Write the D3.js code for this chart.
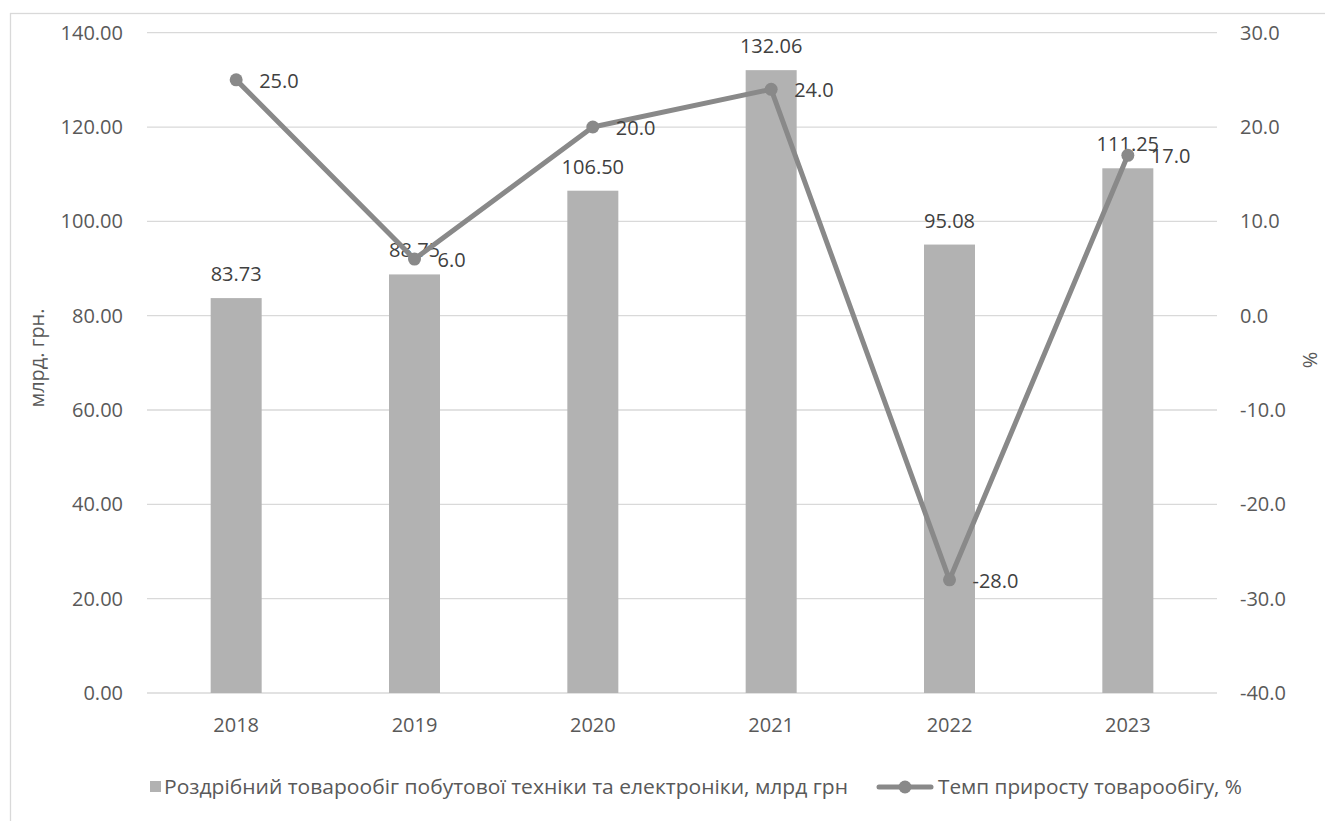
<!doctype html>
<html lang="uk">
<head>
  <meta charset="utf-8">
  <title>Роздрібний товарообіг</title>
  <style>
    body { margin: 0; background: #fff; }
    svg { font-family: "Open Sans", "Noto Sans", sans-serif; }
    .grid line { stroke: #d9d9d9; stroke-width: 1.3; }
    .tick-lbl { fill: #595959; font-size: 20px; }
    .data-lbl { fill: #404040; font-size: 20px; }
  </style>
</head>
<body>
  <div id="chart"></div>
  <script src="https://d3js.org/d3.v7.min.js"></script>
  <script>
// chart data
const years = ['2018', '2019', '2020', '2021', '2022', '2023'];
const turnover = [83.73, 88.75, 106.50, 132.06, 95.08, 111.25];   // млрд грн
const growth = [25.0, 6.0, 20.0, 24.0, -28.0, 17.0];               // %
const leftTicks = [0, 20, 40, 60, 80, 100, 120, 140];
const rightTicks = [-40, -30, -20, -10, 0, 10, 20, 30];
const barName = 'Роздрібний товарообіг побутової техніки та електроніки, млрд грн';
const lineName = 'Темп приросту товарообігу, %';

const W = 1325, H = 821;
const plot = { left: 147, right: 1217, top: 32.7, bottom: 693 };

// Excel shows a plain hyphen for negatives
const f1 = v => d3.format('.1f')(v).replace('\u2212', '-');
const f2 = v => d3.format('.2f')(v).replace('\u2212', '-');

const svg = d3.select('#chart').append('svg')
  .attr('width', W)
  .attr('height', H);

// outer chart border (runs off the right/bottom edge like the original)
svg.append('rect')
  .attr('x', 10.5).attr('y', 13.5)
  .attr('width', W).attr('height', H)
  .attr('fill', 'none')
  .attr('stroke', '#d9d9d9')
  .attr('stroke-width', 1.3);

const x = d3.scaleBand().domain(years).range([plot.left, plot.right]);
const yL = d3.scaleLinear().domain([0, 140]).range([plot.bottom, plot.top]);
const yR = d3.scaleLinear().domain([-40, 30]).range([plot.bottom, plot.top]);
const cx = d => x(d) + x.bandwidth() / 2;

// gridlines
svg.append('g').attr('class', 'grid')
  .selectAll('line')
  .data(leftTicks)
  .join('line')
  .attr('x1', plot.left).attr('x2', plot.right)
  .attr('y1', d => yL(d)).attr('y2', d => yL(d));

// left axis labels
svg.append('g')
  .selectAll('text')
  .data(leftTicks)
  .join('text')
  .attr('class', 'tick-lbl')
  .attr('x', 123)
  .attr('y', d => yL(d))
  .attr('dy', '0.35em')
  .attr('text-anchor', 'end')
  .text(f2);

// right axis labels
svg.append('g')
  .selectAll('text')
  .data(rightTicks)
  .join('text')
  .attr('class', 'tick-lbl')
  .attr('x', 1240)
  .attr('y', d => yR(d))
  .attr('dy', '0.35em')
  .attr('text-anchor', 'start')
  .text(f1);

// x labels
svg.append('g')
  .selectAll('text')
  .data(years)
  .join('text')
  .attr('class', 'tick-lbl')
  .attr('x', cx)
  .attr('y', 725)
  .attr('dy', '0.35em')
  .attr('text-anchor', 'middle')
  .text(d => d);

// axis titles
svg.append('text')
  .attr('class', 'tick-lbl')
  .attr('transform', 'translate(37,358) rotate(-90)')
  .attr('dy', '0.35em')
  .attr('text-anchor', 'middle')
  .text('млрд. грн.');

svg.append('text')
  .attr('class', 'tick-lbl')
  .attr('transform', 'translate(1310,360) rotate(90)')
  .attr('dy', '0.35em')
  .attr('text-anchor', 'middle')
  .text('%');

// bars
const barW = 51;
svg.append('g')
  .selectAll('rect')
  .data(years)
  .join('rect')
  .attr('x', d => cx(d) - barW / 2)
  .attr('y', (d, i) => yL(turnover[i]))
  .attr('width', barW)
  .attr('height', (d, i) => yL(0) - yL(turnover[i]))
  .attr('fill', '#b2b2b2');

// bar labels
svg.append('g')
  .selectAll('text')
  .data(years)
  .join('text')
  .attr('class', 'data-lbl')
  .attr('x', cx)
  .attr('y', (d, i) => yL(turnover[i]) - 24)
  .attr('dy', '0.35em')
  .attr('text-anchor', 'middle')
  .text((d, i) => f2(turnover[i]));

// growth line
const line = d3.line()
  .x((d, i) => cx(years[i]))
  .y(d => yR(d));

svg.append('path')
  .datum(growth)
  .attr('d', line)
  .attr('fill', 'none')
  .attr('stroke', '#898989')
  .attr('stroke-width', 5)
  .attr('stroke-linejoin', 'round');

svg.append('g')
  .selectAll('circle')
  .data(growth)
  .join('circle')
  .attr('cx', (d, i) => cx(years[i]))
  .attr('cy', d => yR(d))
  .attr('r', 6.5)
  .attr('fill', '#898989');

// line labels
svg.append('g')
  .selectAll('text')
  .data(growth)
  .join('text')
  .attr('class', 'data-lbl')
  .attr('x', (d, i) => cx(years[i]) + 23)
  .attr('y', d => yR(d) + 1)
  .attr('dy', '0.35em')
  .text(f1);

// legend
const leg = svg.append('g');
leg.append('rect')
  .attr('x', 150).attr('y', 781)
  .attr('width', 11).attr('height', 11)
  .attr('fill', '#b2b2b2');
leg.append('text')
  .attr('class', 'tick-lbl')
  .attr('x', 164).attr('y', 787)
  .attr('dy', '0.35em')
  .attr('textLength', 684)
  .attr('lengthAdjust', 'spacingAndGlyphs')
  .text(barName);
leg.append('line')
  .attr('x1', 879).attr('x2', 931)
  .attr('y1', 787).attr('y2', 787)
  .attr('stroke', '#898989')
  .attr('stroke-width', 5)
  .attr('stroke-linecap', 'round');
leg.append('circle')
  .attr('cx', 905).attr('cy', 787).attr('r', 6.5)
  .attr('fill', '#898989');
leg.append('text')
  .attr('class', 'tick-lbl')
  .attr('x', 938).attr('y', 787)
  .attr('dy', '0.35em')
  .attr('textLength', 304)
  .attr('lengthAdjust', 'spacingAndGlyphs')
  .text(lineName);
  </script>
</body>
</html>
